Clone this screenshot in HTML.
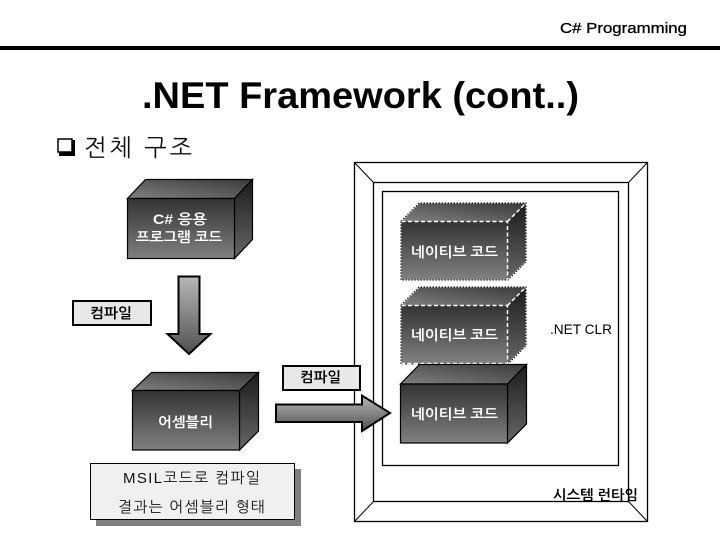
<!DOCTYPE html>
<html>
<head>
<meta charset="utf-8">
<style>
html,body{margin:0;padding:0;background:#fff;width:720px;height:540px;overflow:hidden}
svg{display:block}
text{font-family:"Liberation Sans","NanumGothic","Noto Sans CJK KR",sans-serif}
.w{fill:#fff;font-weight:bold;font-size:14px}
.k{fill:#000;font-weight:bold;font-size:14px}
.l{fill:#111;font-size:15px}
</style>
</head>
<body>
<svg width="720" height="540" viewBox="0 0 720 540" xmlns="http://www.w3.org/2000/svg">
<defs>
<linearGradient id="front" x1="0" y1="0" x2="0" y2="1"><stop offset="0" stop-color="#333"/><stop offset="1" stop-color="#808080"/></linearGradient>
<linearGradient id="top" x1="0" y1="1" x2="1" y2="0"><stop offset="0" stop-color="#808080"/><stop offset="1" stop-color="#3a3a3a"/></linearGradient>
<linearGradient id="side" x1="0" y1="0" x2="0" y2="1"><stop offset="0" stop-color="#1c1c1c"/><stop offset="1" stop-color="#666"/></linearGradient>
<linearGradient id="down" x1="0" y1="0" x2="0" y2="1"><stop offset="0" stop-color="#b8b8b8"/><stop offset="1" stop-color="#505050"/></linearGradient>
</defs>

<!-- header -->
<text x="560" y="33" font-size="15" textLength="127" lengthAdjust="spacingAndGlyphs" fill="#000" style="stroke:#000;stroke-width:.3">C# Programming</text>
<rect x="0" y="46" width="720" height="4" fill="#000"/>
<text x="142" y="108" font-size="37" font-weight="bold" textLength="437" lengthAdjust="spacingAndGlyphs" fill="#000">.NET Framework (cont..)</text>

<!-- bullet -->
<rect x="59" y="140" width="16" height="16" fill="#000"/>
<rect x="58" y="139" width="14" height="13" fill="#fff" stroke="#000" stroke-width="1.5"/>
<text x="84" y="156" font-size="24" textLength="108" lengthAdjust="spacing" fill="#111">전체 구조</text>

<!-- frame -->
<rect x="354.500" y="162.500" width="293" height="359" fill="#fff" stroke="#000" stroke-width="1.3"/>
<rect x="373.500" y="182.500" width="255" height="319" fill="#fff" stroke="#000" stroke-width="1.3"/>
<rect x="382.500" y="191.500" width="236" height="274" fill="#fff" stroke="#000" stroke-width="1.3"/>
<path d="M354.500 162.500L373.500 182.500M647.500 162.500L628.500 182.500M354.500 521.500L373.500 501.500M647.500 521.500L628.500 501.500" stroke="#000" stroke-width="1" fill="none"/>

<!-- C# box -->
<g stroke="#000" stroke-width="1.2">
<polygon points="127.500,198.500 145.500,179.500 252.500,179.500 234.500,198.500" fill="url(#top)"/>
<polygon points="234.500,198.500 252.500,179.500 252.500,239.500 234.500,258.500" fill="url(#side)"/>
<rect x="127.500" y="198.500" width="107" height="60" fill="url(#front)"/>
</g>
<text class="w" x="153" y="224" textLength="54" lengthAdjust="spacingAndGlyphs">C# 응용</text>
<text class="w" x="136" y="242" textLength="86" lengthAdjust="spacingAndGlyphs">프로그램 코드</text>

<!-- label 1 -->
<rect x="73" y="301" width="78" height="24" fill="#e8e8e8" stroke="#000" stroke-width="2"/>
<text class="k" x="90" y="318" textLength="42" lengthAdjust="spacingAndGlyphs">컴파일</text>

<!-- down arrow -->
<polygon points="178.500,276.500 199.500,276.500 199.500,334 210.500,334 189,354 167.500,334 178.500,334" fill="url(#down)" stroke="#000" stroke-width="2"/>

<!-- native 1 -->
<polygon points="401,221 419,203 526,203 526,262 508,280 401,280" fill="none" stroke="#000" stroke-width="1" stroke-dasharray="1.500 1.500"/>
<polygon points="401.500,221.500 419.500,203.500 525.500,203.500 507.500,221.500" fill="url(#top)"/>
<polygon points="507.500,221.500 525.500,203.500 525.500,261.500 507.500,279.500" fill="url(#side)"/>
<rect x="401.500" y="221.500" width="106" height="58" fill="url(#front)"/>
<path d="M401.500 221.500H507.500V279.500M507.500 221.500L525.500 203.500" fill="none" stroke="#fff" stroke-width="1.500" stroke-dasharray="4 2.500"/>
<text class="w" x="411" y="257" textLength="87" lengthAdjust="spacingAndGlyphs">네이티브 코드</text>

<!-- native 2 -->
<polygon points="401,305 419,287 526,287 526,346 508,364 401,364" fill="none" stroke="#000" stroke-width="1" stroke-dasharray="1.500 1.500"/>
<polygon points="401.500,305.500 419.500,287.500 525.500,287.500 507.500,305.500" fill="url(#top)"/>
<polygon points="507.500,305.500 525.500,287.500 525.500,345.500 507.500,363.500" fill="url(#side)"/>
<rect x="401.500" y="305.500" width="106" height="58" fill="url(#front)"/>
<path d="M401.500 305.500H507.500V363.500H401.500M507.500 305.500L525.500 287.500" fill="none" stroke="#fff" stroke-width="1.500" stroke-dasharray="4 2.500"/>
<text class="w" x="411" y="340" textLength="87" lengthAdjust="spacingAndGlyphs">네이티브 코드</text>

<!-- native 3 -->
<g stroke="#000" stroke-width="1.2">
<polygon points="400.500,384 419.500,364.500 526.500,364.500 507.500,384" fill="url(#top)"/>
<polygon points="507.500,384 526.500,364.500 526.500,424 507.500,443" fill="url(#side)"/>
<rect x="400.500" y="384" width="107" height="59" fill="url(#front)"/>
</g>
<text class="w" x="411" y="419" textLength="87" lengthAdjust="spacingAndGlyphs">네이티브 코드</text>

<text x="550" y="334" font-size="14" textLength="62" lengthAdjust="spacingAndGlyphs" fill="#000">.NET CLR</text>
<text class="k" x="553" y="500" textLength="85" lengthAdjust="spacingAndGlyphs">시스템 런타임</text>

<!-- assembly box -->
<g stroke="#000" stroke-width="1.2">
<polygon points="132.500,390.500 151.500,372.500 258.500,372.500 239.500,390.500" fill="url(#top)"/>
<polygon points="239.500,390.500 258.500,372.500 258.500,431 239.500,450" fill="url(#side)"/>
<rect x="132.500" y="390.500" width="107" height="59.500" fill="url(#front)"/>
</g>
<text class="w" x="158" y="427" textLength="55" lengthAdjust="spacingAndGlyphs">어셈블리</text>

<!-- label 2 -->
<rect x="283" y="366" width="77" height="24" fill="#e8e8e8" stroke="#000" stroke-width="2"/>
<text class="k" x="300" y="382" textLength="41" lengthAdjust="spacingAndGlyphs">컴파일</text>

<!-- right arrow -->
<polygon points="276,404.500 362,404.500 362,395.500 390,413 362,431 362,422 276,422" fill="url(#down)" stroke="#000" stroke-width="2"/>

<!-- MSIL note -->
<rect x="96" y="469" width="205" height="57" fill="#808080"/>
<rect x="90.500" y="463.500" width="204" height="56" fill="#f0f0f0" stroke="#000" stroke-width="1"/>
<text class="l" x="123" y="483" textLength="137" lengthAdjust="spacing">MSIL코드로 컴파일</text>
<text class="l" x="118" y="512" textLength="147" lengthAdjust="spacing">결과는 어셈블리 형태</text>
</svg>
</body>
</html>
